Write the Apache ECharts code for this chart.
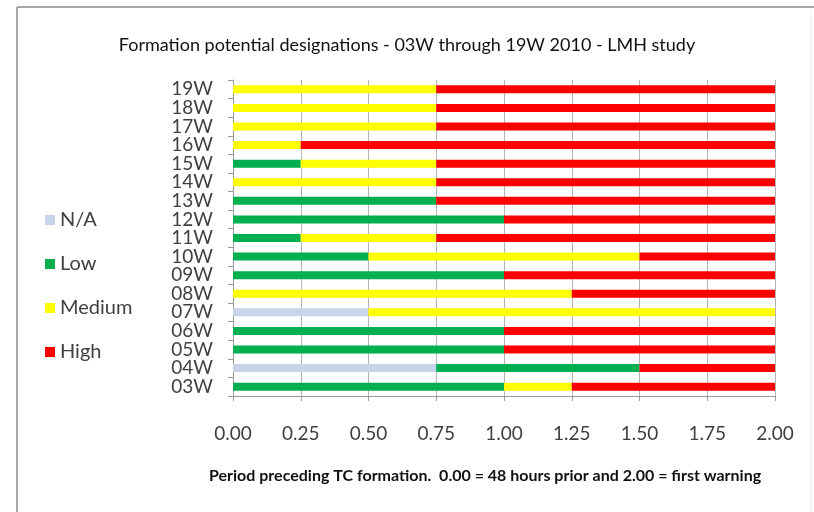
<!DOCTYPE html>
<html>
<head>
<meta charset="utf-8">
<script src="https://cdn.jsdelivr.net/npm/echarts@6/dist/echarts.min.js"></script>
<style>
  html, body { margin: 0; padding: 0; background: #fff; }
  #chart { width: 814px; height: 512px; }
</style>
</head>
<body>
<div id="chart"></div>
<script>
// storms, bottom to top
const storms = ['03W', '04W', '05W', '06W', '07W', '08W', '09W', '10W', '11W',
  '12W', '13W', '14W', '15W', '16W', '17W', '18W', '19W']

// length of each designation period (0.00 = 48 h prior, 2.00 = first warning)
const naVals = [0, 0.75, 0, 0, 0.5, 0, 0, 0, 0, 0, 0, 0, 0, 0, 0, 0, 0]
const lowVals = [1.0, 0.75, 1.0, 1.0, 0, 0, 1.0, 0.5, 0.25, 1.0, 0.75, 0, 0.25, 0, 0, 0, 0]
const mediumVals = [0.25, 0, 0, 0, 1.5, 1.25, 0, 1.0, 0.5, 0, 0, 0.75, 0.5, 0.25, 0.75, 0.75, 0.75]
const highVals = [0.75, 0.5, 1.0, 1.0, 0, 0.75, 1.0, 0.5, 1.25, 1.0, 1.25, 1.25, 1.25, 1.75, 1.25, 1.25, 1.25]

const chart = echarts.init(document.getElementById('chart'))

const font = 'Lato, "Open Sans", sans-serif'
const textColor = '#404040'

const makeSeries = (name, data, color) => ({
  name: name,
  type: 'bar',
  stack: 'total',
  data: data,
  barWidth: 8,
  itemStyle: { color: color },
  silent: true
})

const option = {
  animation: false,
  textStyle: { fontFamily: font },
  title: [
    {
      text: 'Formation potential designations - 03W through 19W 2010 - LMH study',
      left: 'center',
      top: 31,
      textStyle: { color: '#111', fontSize: 18, fontWeight: 'normal', fontFamily: font }
    },
    {
      // x axis caption, placed like the original (not centred on the axis)
      text: 'Period preceding TC formation.  0.00 = 48 hours prior and 2.00 = first warning',
      left: 204,
      top: 463,
      textStyle: { color: '#111', fontSize: 16, fontWeight: 'bold', fontFamily: font }
    }
  ],
  legend: {
    orient: 'vertical',
    left: 40,
    top: 205,
    icon: 'rect',
    itemWidth: 10,
    itemHeight: 10,
    itemGap: 24,
    data: ['N/A', 'Low', 'Medium', 'High'],
    textStyle: { color: textColor, fontSize: 20, lineHeight: 20, fontFamily: font }
  },
  grid: {
    left: 233,
    right: 39,
    top: 80,
    bottom: 116
  },
  xAxis: {
    type: 'value',
    min: 0,
    max: 2,
    interval: 0.25,
    axisLine: { show: true, lineStyle: { color: '#9a9a9a' } },
    axisTick: { show: true, length: 5, lineStyle: { color: '#9a9a9a' } },
    axisLabel: {
      color: textColor,
      fontSize: 19,
      margin: 28,
      formatter: v => v.toFixed(2)
    },
    splitLine: { show: true, lineStyle: { color: '#b4b4b4' } }
  },
  yAxis: {
    type: 'category',
    data: storms,
    axisLine: { show: true, lineStyle: { color: '#9a9a9a' } },
    axisTick: { show: true, length: 5, lineStyle: { color: '#9a9a9a' } },
    axisLabel: { color: textColor, fontSize: 19, margin: 20, lineHeight: 16, interval: 0, hideOverlap: false }
  },
  graphic: [
    { type: 'line', shape: { x1: 17, y1: 7, x2: 17, y2: 512 }, style: { stroke: '#a8a8a8', lineWidth: 2 } },
    { type: 'line', shape: { x1: 17, y1: 7, x2: 814, y2: 7 }, style: { stroke: '#a8a8a8', lineWidth: 2 } },
    { type: 'line', shape: { x1: 811, y1: 12, x2: 811, y2: 512 }, style: { stroke: '#ececec', lineWidth: 1 } }
  ],
  series: [
    makeSeries('N/A', naVals, '#c6d5ec'),
    makeSeries('Low', lowVals, '#00b050'),
    makeSeries('Medium', mediumVals, '#ffff00'),
    makeSeries('High', highVals, '#ff0000')
  ]
}

chart.setOption(option)
</script>
</body>
</html>
